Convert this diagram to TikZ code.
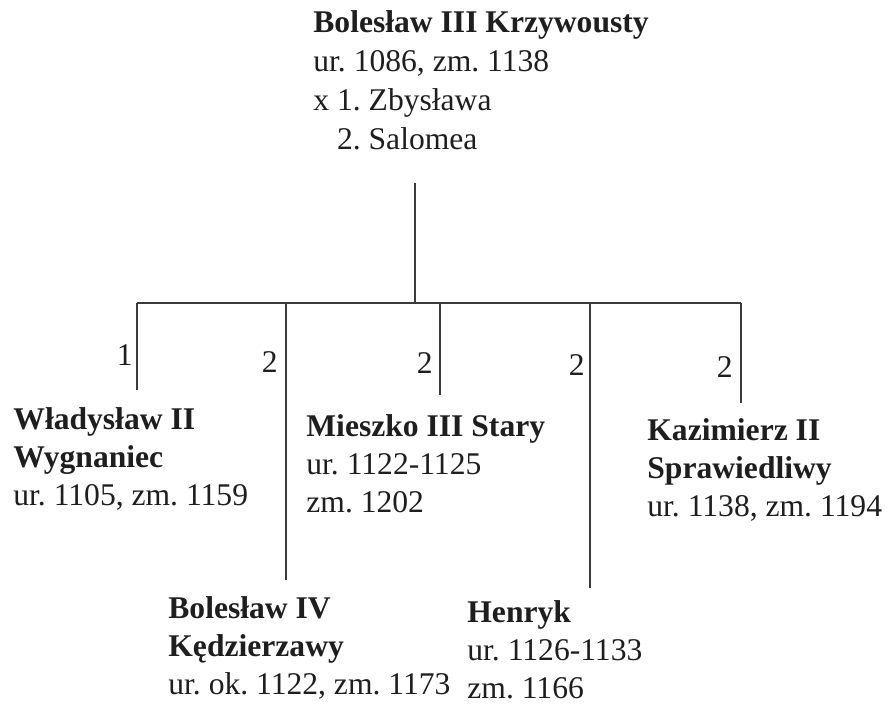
\documentclass[tikz,border=0pt]{standalone}
\usepackage{fontspec}
\setmainfont{Liberation Serif}
\usepackage{xcolor}
\usepackage{tikz}
\usetikzlibrary{positioning}
\definecolor{linegray}{HTML}{3A3A3A}
\definecolor{textgray}{HTML}{1E1E1E}
\frenchspacing

\begin{document}
\begin{tikzpicture}[x=0.5pt, y=-0.5pt,
    person/.style={anchor=north west, align=left, inner sep=0pt, text=textgray,
        font=\fontsize{15.8}{19}\selectfont},
    num/.style={anchor=base east, inner sep=0pt, text=textgray,
        font=\fontsize{15.8}{19}\selectfont},
    branch/.style={draw=linegray, line width=1pt}]
    \useasboundingbox (0,0) rectangle (892,703);

    % ojciec
    \node[person, font=\fontsize{15.8}{19.6}\selectfont] (krzywousty) at (313,10)
        {\textbf{Bolesław III Krzywousty}\\
        ur. 1086, zm. 1138\\ x 1. Zbysława\\ \hphantom{x }2. Salomea};

    % synowie
    \node[person] (wladyslaw) at (13,407) {\textbf{Władysław II}\\
        \textbf{Wygnaniec}\\ ur. 1105, zm. 1159};
    \node[person] (mieszko) at (306,414) {\textbf{Mieszko III Stary}\\
        ur. 1122-1125\\ zm. 1202};
    \node[person] (kazimierz) at (647,418) {\textbf{Kazimierz II}\\
        \textbf{Sprawiedliwy}\\ ur. 1138, zm. 1194};
    \node[person] (boleslaw) at (168,596) {\textbf{Bolesław IV}\\
        \textbf{Kędzierzawy}\\ ur. ok. 1122, zm. 1173};
    \node[person] (henryk) at (467,600) {\textbf{Henryk}\\
        ur. 1126-1133\\ zm. 1166};

    % linie
    \coordinate (top) at (415,183);
    \coordinate (bar) at (415,303);
    \coordinate (barW) at (137,303);
    \coordinate (barB) at (286,303);
    \coordinate (barM) at (440,303);
    \coordinate (barH) at (590,303);
    \coordinate (barK) at (741,303);
    \coordinate (endW) at (137,390);
    \coordinate (endB) at (286,580);
    \coordinate (endM) at (440,395);
    \coordinate (endH) at (590,588);
    \coordinate (endK) at (741,403);

    \draw[branch] (top) -- (bar);
    \draw[branch] (barW) -- (barK);
    \draw[branch] (barW) -- (endW);
    \draw[branch] (barB) -- (endB);
    \draw[branch] (barM) -- (endM);
    \draw[branch] (barH) -- (endH);
    \draw[branch] (barK) -- (endK);

    \node[num] (nW) at (133,365) {1};
    \node[num] (nB) at (278,372) {2};
    \node[num] (nM) at (433,373) {2};
    \node[num] (nH) at (585,375) {2};
    \node[num] (nK) at (733,377) {2};
\end{tikzpicture}
\end{document}
